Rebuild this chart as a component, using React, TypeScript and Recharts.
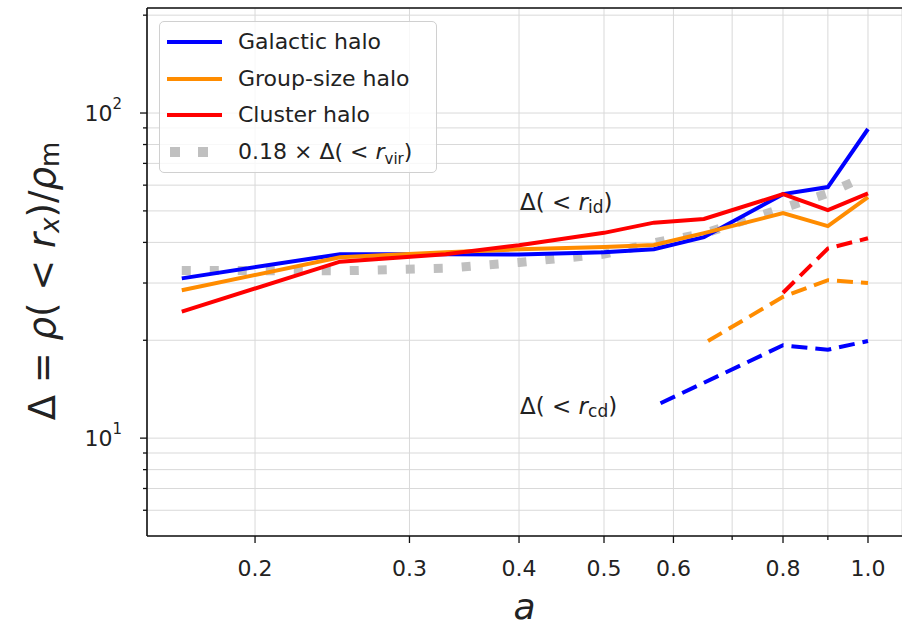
import React from 'react';
import {
  LineChart,
  Line,
  XAxis,
  YAxis,
  CartesianGrid,
  Legend,
  ReferenceDot,
  ReferenceLine,
} from 'recharts';

// snapshot scale factors (solid lines, r_id)
const aSnap = [0.165, 0.25, 0.33, 0.4, 0.5, 0.57, 0.65, 0.8, 0.9, 1.0];
const galacticId = [31.0, 36.8, 36.8, 36.7, 37.3, 38.1, 41.5, 56.3, 59.2, 89.3];
const groupId = [28.5, 36.0, 37.3, 38.1, 38.7, 39.3, 42.7, 49.2, 44.9, 55.1];
const clusterId = [24.5, 34.9, 36.8, 39.2, 42.8, 46.0, 47.2, 56.3, 50.3, 56.6];
const virScaled = [32.8, 32.7, 33.3, 34.7, 36.8, 39.9, 42.6, 51.0, 56.6, 64.4];

// dashed lines (r_cd)
const aCdGalactic = [0.58, 0.8, 0.9, 1.0];
const galacticCd = [12.8, 19.3, 18.7, 19.9];
const aCdGroup = [0.657, 0.8, 0.9, 1.0];
const groupCd = [19.9, 27.2, 30.6, 30.0];
const aCdCluster = [0.8, 0.9, 1.0];
const clusterCd = [28.0, 38.3, 41.2];

const xTicks = [0.2, 0.3, 0.4, 0.5, 0.6, 0.7, 0.8, 0.9, 1.0];
const xTickLabels = ['0.2', '0.3', '0.4', '0.5', '0.6', '', '0.8', '', '1.0'];
const yTicks = [6, 7, 8, 9, 10, 20, 30, 40, 50, 60, 70, 80, 90, 100, 200];
const yMajor = [10, 100];

const xDomain = [0.1506, 1.0934];
const yDomain = [5.0, 210.4];

const FONT = '"DejaVu Sans", sans-serif';
const TEXT = '#222';
const LW = 4;

const pts = (xs: number[], ys: number[]) => xs.map((a, i) => ({ a, v: ys[i] }));

const XTick = ({ x, y, index }: any) => {
  const label = xTickLabels[index] ?? '';
  return (
    <g>
      <line x1={x} x2={x} y1={y} y2={y + (label ? 7 : 4)} stroke="#111" strokeWidth={1.3} />
      {label && (
        <text x={x} y={y + 32} textAnchor="middle" dominantBaseline="central"
          fontSize={22} fontFamily={FONT} fill={TEXT}>
          {label}
        </text>
      )}
    </g>
  );
};

const YTick = ({ x, y, payload }: any) => {
  const v = payload.value;
  const major = yMajor.includes(v);
  return (
    <g>
      <line x1={x} x2={x - (major ? 7 : 4)} y1={y} y2={y} stroke="#111" strokeWidth={1.3} />
      {major && (
        <text x={x - 25} y={y} textAnchor="end" dominantBaseline="central"
          fontSize={22} fontFamily={FONT} fill={TEXT}>
          10<tspan dy={-9} fontSize={15}>{Math.round(Math.log10(v))}</tspan>
        </text>
      )}
    </g>
  );
};

const legendItems = [
  { name: 'Galactic halo', color: '#0000ff', dash: undefined, width: LW },
  { name: 'Group-size halo', color: '#ff8c00', dash: undefined, width: LW },
  { name: 'Cluster halo', color: '#ff0000', dash: undefined, width: LW },
  { name: 'vir', color: '#c0c0c0', dash: '10 18', width: 10 },
];

const LegendBox = () => (
  <div style={{
    border: '1px solid #d0d0d0', borderRadius: 5, background: 'rgba(255,255,255,0.8)',
    width: 276, height: 150, position: 'relative', fontFamily: FONT, color: TEXT,
  }}>
    {legendItems.map((it, i) => (
      <div key={i} style={{ position: 'absolute', left: 0, top: 6 + i * 36.5, height: 28, width: 276 }}>
        <svg width={70} height={28} style={{ position: 'absolute', left: 0, top: 0 }}>
          <line x1={7} x2={62} y1={14} y2={14} stroke={it.color}
            strokeWidth={it.width} strokeDasharray={it.dash} strokeDashoffset={-3} />
        </svg>
        <div style={{ position: 'absolute', left: 78, top: 0, lineHeight: '28px', fontSize: 22, whiteSpace: 'nowrap' }}>
          {it.name === 'vir' ? (
            <span>0.18 × Δ( &lt; <i>r</i><sub style={{ fontSize: 15 }}>vir</sub>)</span>
          ) : it.name}
        </div>
      </div>
    ))}
  </div>
);

const Annot = ({ viewBox, sub }: any) => (
  <text x={viewBox.x} y={viewBox.y} dominantBaseline="central" fontSize={23}
    fontFamily={FONT} fill={TEXT}>
    {'Δ( <\u00a0'}<tspan fontStyle="italic">r</tspan>
    <tspan dy={5} fontSize={17}>{sub}</tspan>
    <tspan dy={-5}>)</tspan>
  </text>
);

const YLabel = ({ viewBox }: any) => {
  const cx = viewBox.x - 45;
  const cy = viewBox.y + viewBox.height / 2 + 9;
  return (
    <text x={cx} y={cy} transform={`rotate(-90 ${cx} ${cy})`} textAnchor="middle"
      dominantBaseline="central" fontSize={37} fontFamily={FONT} fill={TEXT}>
      Δ = <tspan fontStyle="italic">ρ</tspan>( &lt; <tspan fontStyle="italic">r</tspan>
      <tspan dy={8} fontSize={26} fontStyle="italic">x</tspan>
      <tspan dy={-8}>)/</tspan>
      <tspan fontStyle="italic">ρ</tspan>
      <tspan dy={8} fontSize={26}>m</tspan>
    </text>
  );
};

const XLabel = ({ viewBox }: any) => (
  <text x={viewBox.x + viewBox.width / 2} y={viewBox.y + 70} textAnchor="middle"
    dominantBaseline="central" fontSize={36} fontFamily={FONT} fontStyle="italic" fill={TEXT}>
    a
  </text>
);

export default function App() {
  return (
    <div style={{ position: 'fixed', left: 0, top: 0, width: 902, height: 628, background: '#fff' }}>
      <LineChart width={902} height={628} margin={{ top: 8, right: 0, bottom: 42, left: 87 }}>
        <CartesianGrid stroke="#d9d9d9" strokeWidth={1} />
        <XAxis
          dataKey="a"
          type="number"
          scale="log"
          domain={xDomain}
          allowDataOverflow
          ticks={xTicks}
          interval={0}
          tick={<XTick />}
          tickLine={false}
          tickSize={0}
          tickMargin={0}
          height={50}
          axisLine={{ stroke: '#111', strokeWidth: 1.6 }}
          label={{ content: (p: any) => <XLabel {...p} /> }}
        />
        <YAxis
          type="number"
          scale="log"
          domain={yDomain}
          allowDataOverflow
          ticks={yTicks}
          interval={0}
          tick={<YTick />}
          tickLine={false}
          tickSize={0}
          tickMargin={0}
          width={60}
          axisLine={{ stroke: '#111', strokeWidth: 1.6 }}
          label={{ content: (p: any) => <YLabel {...p} /> }}
        />
        <ReferenceLine y={yDomain[1]} stroke="#111" strokeWidth={1.6} />
        <Line data={pts(aSnap, virScaled)} dataKey="v" stroke="#c0c0c0" strokeWidth={9}
          strokeDasharray="9 19" dot={false} isAnimationActive={false} legendType="none" />
        <Line data={pts(aSnap, galacticId)} dataKey="v" stroke="#0000ff" strokeWidth={LW}
          dot={false} isAnimationActive={false} legendType="none" />
        <Line data={pts(aSnap, groupId)} dataKey="v" stroke="#ff8c00" strokeWidth={LW}
          dot={false} isAnimationActive={false} legendType="none" />
        <Line data={pts(aSnap, clusterId)} dataKey="v" stroke="#ff0000" strokeWidth={LW}
          dot={false} isAnimationActive={false} legendType="none" />
        <Line data={pts(aCdGalactic, galacticCd)} dataKey="v" stroke="#0000ff" strokeWidth={LW}
          strokeDasharray="16 8" dot={false} isAnimationActive={false} legendType="none" />
        <Line data={pts(aCdGroup, groupCd)} dataKey="v" stroke="#ff8c00" strokeWidth={LW}
          strokeDasharray="16 8" dot={false} isAnimationActive={false} legendType="none" />
        <Line data={pts(aCdCluster, clusterCd)} dataKey="v" stroke="#ff0000" strokeWidth={LW}
          strokeDasharray="16 8" dot={false} isAnimationActive={false} legendType="none" />
        <ReferenceDot x={0.401} y={53.3} r={0} fill="none" stroke="none"
          label={{ content: (p: any) => <Annot {...p} sub="id" /> }} />
        <ReferenceDot x={0.401} y={12.6} r={0} fill="none" stroke="none"
          label={{ content: (p: any) => <Annot {...p} sub="cd" /> }} />
        <Legend
          layout="vertical"
          align="center"
          verticalAlign="middle"
          content={<LegendBox />}
          wrapperStyle={{ position: 'absolute', left: 159, top: 21, width: 278, height: 152 }}
        />
      </LineChart>
    </div>
  );
}
